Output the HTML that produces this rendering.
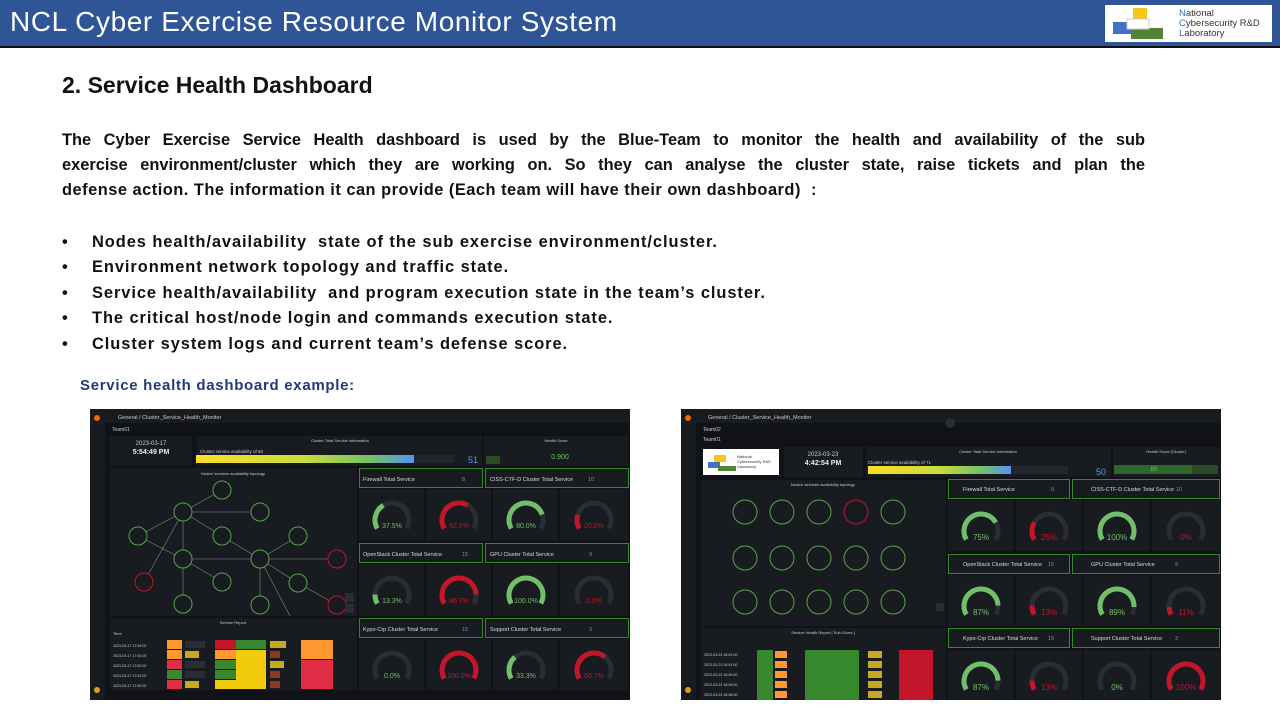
<!DOCTYPE html>
<html><head><meta charset="utf-8"><style>
body{margin:0;width:1280px;height:720px;background:#fff;position:relative;overflow:hidden;font-family:"Liberation Sans",sans-serif}
.hdr{position:absolute;left:0;top:0;width:1280px;height:46px;background:#2f5597;border-bottom:2px solid #111}
.hdr .t{position:absolute;left:10px;top:6px;color:#fff;font-size:28px;letter-spacing:0.6px}
.logo{position:absolute;left:1105px;top:5px;width:167px;height:37px;background:#fff}
.logo .n{position:absolute;left:74px;top:4px;font-size:9.5px;line-height:10px;color:#333}
.logo .n b{color:#2f6fc4;font-weight:normal}
h1{position:absolute;left:62px;top:72px;margin:0;font-size:23px;font-weight:bold;color:#111}
.p{position:absolute;left:62px;width:1083px;font-size:16.4px;font-weight:bold;color:#111;text-align:justify;text-align-last:justify;white-space:nowrap}
.b{position:absolute;left:62px;font-size:16.4px;font-weight:bold;color:#111;letter-spacing:0.95px}
.b span{position:absolute;left:30px;white-space:nowrap}
.ex{position:absolute;left:80px;top:377px;font-size:15px;font-weight:bold;color:#1f3b7a;letter-spacing:0.7px}
svg{position:absolute;left:0;top:0}
</style></head><body>
<div class="hdr"><div class="t">NCL Cyber Exercise Resource Monitor System</div>
<div class="logo"><svg width="70" height="37" style="left:0;top:0"><rect x="28" y="3" width="14" height="14" fill="#f5c518"/><rect x="8" y="17" width="20" height="12" fill="#4472c4"/><rect x="26" y="23" width="32" height="11" fill="#548235"/><rect x="22" y="14" width="22" height="10" fill="#fff" stroke="#ccc"/></svg>
<div class="n"><b>N</b>ational<br><b>C</b>ybersecurity R&amp;D<br><b>L</b>aboratory</div></div></div>
<h1>2. Service Health Dashboard</h1>
<div class="p" style="top:131px">The Cyber Exercise Service Health dashboard is used by the Blue-Team to monitor the health and availability of the sub</div>
<div class="p" style="top:156px">exercise environment/cluster which they are working on. So they can analyse the cluster state, raise tickets and plan the</div>
<div class="p" style="top:181px;text-align-last:left;width:auto;letter-spacing:0.5px">defense action. The information it can provide (Each team will have their own dashboard) &nbsp;:</div>
<div class="b" style="top:233px">•<span>Nodes health/availability &nbsp;state of the sub exercise environment/cluster.</span></div>
<div class="b" style="top:258px">•<span>Environment network topology and traffic state.</span></div>
<div class="b" style="top:284px">•<span>Service health/availability &nbsp;and program execution state in the team’s cluster.</span></div>
<div class="b" style="top:309px">•<span>The critical host/node login and commands execution state.</span></div>
<div class="b" style="top:335px">•<span>Cluster system logs and current team’s defense score.</span></div>
<div class="ex">Service health dashboard example:</div>

<svg width="1280" height="720" font-family="Liberation Sans, sans-serif">
<defs><linearGradient id="g" x1="0" x2="1"><stop offset="0" stop-color="#fade2a"/><stop offset="0.5" stop-color="#c8dc3c"/><stop offset="0.8" stop-color="#73bf69"/><stop offset="1" stop-color="#5794f2"/></linearGradient></defs>
<!-- LEFT DASHBOARD -->
<rect x="90" y="409" width="540" height="291" fill="#111217"/>
<rect x="90" y="409" width="15" height="291" fill="#181b1f"/>
<rect x="90" y="409" width="540" height="14" fill="#181b1f"/>
<text x="118" y="419" font-size="5.5" fill="#ccc">General / Cluster_Service_Health_Monitor</text>
<text x="112" y="431" font-size="5" fill="#ccc">Team01</text>
<circle cx="97" cy="418" r="3" fill="#f46800"/><circle cx="97" cy="690" r="3" fill="#d9a020"/>
<rect x="110" y="436" width="82" height="30" fill="#181b1f"/>
<text x="151" y="445" font-size="6" fill="#ccc" text-anchor="middle">2023-03-17</text>
<text x="151" y="454" font-size="7" fill="#eee" font-weight="bold" text-anchor="middle">5:54:49 PM</text>
<rect x="197" y="436" width="285" height="30" fill="#181b1f"/>
<text x="340" y="442" font-size="4" fill="#ccc" text-anchor="middle">Cluster Total Service Information</text>
<text x="200" y="453" font-size="4.5" fill="#ccc">Cluster service availability of 60</text>
<rect x="196" y="455" width="218" height="8" fill="url(#g)"/><rect x="414" y="455" width="40" height="8" fill="#22252b"/>
<text x="473" y="463" font-size="9" fill="#5794f2" text-anchor="middle">51</text>
<rect x="484" y="436" width="144" height="30" fill="#181b1f"/>
<text x="556" y="442" font-size="4" fill="#ccc" text-anchor="middle">Health Score</text>
<text x="560" y="459" font-size="7" fill="#73bf69" text-anchor="middle">0.900</text>
<rect x="486" y="456" width="14" height="8" fill="#2c4a26"/>
<rect x="110" y="468" width="247" height="148" fill="#181b1f"/>
<text x="233" y="475" font-size="4" fill="#ccc" text-anchor="middle">Nodes' services availability topology</text>
<g stroke="#888" stroke-width="0.6">
<line x1="183" y1="512" x2="222" y2="490"/><line x1="183" y1="512" x2="260" y2="512"/><line x1="183" y1="512" x2="138" y2="536"/><line x1="183" y1="512" x2="222" y2="536"/><line x1="183" y1="512" x2="183" y2="559"/><line x1="138" y1="536" x2="183" y2="559"/><line x1="183" y1="559" x2="260" y2="559"/><line x1="222" y1="536" x2="260" y2="559"/><line x1="260" y1="559" x2="298" y2="536"/><line x1="260" y1="559" x2="337" y2="559"/><line x1="183" y1="559" x2="222" y2="582"/><line x1="183" y1="559" x2="183" y2="604"/><line x1="183" y1="512" x2="144" y2="582"/><line x1="260" y1="559" x2="298" y2="583"/><line x1="260" y1="559" x2="260" y2="605"/><line x1="298" y1="583" x2="337" y2="605"/><line x1="260" y1="559" x2="290" y2="616"/>
</g>
<g fill="#181b1f" stroke="#56a64b" stroke-width="1">
<circle cx="222" cy="490" r="9"/><circle cx="183" cy="512" r="9"/><circle cx="260" cy="512" r="9"/><circle cx="138" cy="536" r="9"/><circle cx="222" cy="536" r="9"/><circle cx="298" cy="536" r="9"/><circle cx="183" cy="559" r="9"/><circle cx="260" cy="559" r="9"/><circle cx="337" cy="559" r="9" stroke="#c4162a"/><circle cx="144" cy="582" r="9" stroke="#c4162a"/><circle cx="222" cy="582" r="9"/><circle cx="298" cy="583" r="9"/><circle cx="183" cy="604" r="9"/><circle cx="260" cy="605" r="9"/><circle cx="337" cy="605" r="9" stroke="#c4162a"/>
</g>
<rect x="345" y="593" width="9" height="9" fill="#2a2d33"/><rect x="345" y="604" width="9" height="9" fill="#2a2d33"/>
<rect x="110" y="618" width="247" height="72" fill="#181b1f"/>
<text x="233" y="624" font-size="4" fill="#ccc" text-anchor="middle">Service Report</text>
<text x="113" y="635" font-size="4" fill="#ccc">Time</text>
<g font-size="3.6" fill="#ccc"><text x="113" y="647">2023-03-17 17:54:00</text><text x="113" y="657">2023-03-17 17:53:00</text><text x="113" y="667">2023-03-17 17:52:00</text><text x="113" y="677">2023-03-17 17:51:00</text><text x="113" y="687">2023-03-17 17:50:00</text></g>
<g>
<rect x="167" y="640" width="15" height="9" fill="#ff9830"/><rect x="167" y="650" width="15" height="9" fill="#ff9830"/><rect x="167" y="660" width="15" height="9" fill="#e02f44"/><rect x="167" y="670" width="15" height="9" fill="#37872d"/><rect x="167" y="680" width="15" height="9" fill="#e02f44"/>
<rect x="185" y="641" width="20" height="7" fill="#2a2d33"/><rect x="185" y="651" width="14" height="7" fill="#c8a820"/><rect x="185" y="661" width="20" height="7" fill="#2a2d33"/><rect x="185" y="671" width="20" height="7" fill="#2a2d33"/><rect x="185" y="681" width="14" height="7" fill="#c8a820"/>
<rect x="215" y="640" width="21" height="9" fill="#c4162a"/><rect x="215" y="650" width="21" height="9" fill="#ff9830"/><rect x="215" y="660" width="21" height="9" fill="#37872d"/><rect x="215" y="670" width="21" height="9" fill="#37872d"/><rect x="215" y="680" width="21" height="9" fill="#f2cc0c"/>
<rect x="236" y="640" width="30" height="9" fill="#37872d"/><rect x="236" y="650" width="30" height="39" fill="#f2cc0c"/>
<rect x="270" y="641" width="16" height="7" fill="#c8a820"/><rect x="270" y="651" width="10" height="7" fill="#8a3a20"/><rect x="270" y="661" width="14" height="7" fill="#c8a820"/><rect x="270" y="671" width="10" height="7" fill="#8a3a20"/><rect x="270" y="681" width="10" height="7" fill="#8a3a20"/>
<rect x="301" y="640" width="32" height="19" fill="#ff9830"/><rect x="301" y="660" width="32" height="29" fill="#e02f44"/>
</g>
<g fill="#181b1f" stroke="#37872d" stroke-width="1">
<rect x="359.5" y="468.5" width="123" height="19"/><rect x="485.5" y="468.5" width="143" height="19"/>
<rect x="359.5" y="543.5" width="123" height="19"/><rect x="485.5" y="543.5" width="143" height="19"/>
<rect x="359.5" y="618.5" width="123" height="19"/><rect x="485.5" y="618.5" width="143" height="19"/>
</g>
<g font-size="5.5" fill="#ddd">
<text x="363" y="481">Firewall Total Service</text><text x="490" y="481">CISS-CTF-D Cluster Total Service</text>
<text x="363" y="556">OpenStack Cluster Total Service</text><text x="490" y="556">GPU Cluster Total Service</text>
<text x="363" y="631">Kypo-Crp Cluster Total Service</text><text x="490" y="631">Support Cluster Total Service</text>
</g>
<g font-size="5.5" fill="#5794f2"><text x="462" y="481">8</text><text x="588" y="481">10</text><text x="462" y="556">15</text><text x="589" y="556">9</text><text x="462" y="631">15</text><text x="589" y="631">3</text></g>
<g fill="#181b1f">
<rect x="359" y="489" width="65" height="52"/><rect x="426" y="489" width="65" height="52"/><rect x="493" y="489" width="65" height="52"/><rect x="560" y="489" width="68" height="52"/>
<rect x="359" y="564" width="65" height="52"/><rect x="426" y="564" width="65" height="52"/><rect x="493" y="564" width="65" height="52"/><rect x="560" y="564" width="68" height="52"/>
<rect x="359" y="639" width="65" height="51"/><rect x="426" y="639" width="65" height="51"/><rect x="493" y="639" width="65" height="51"/><rect x="560" y="639" width="68" height="51"/>
</g>
<g fill="none" stroke-width="5">
<g stroke="#2a2d33">
<circle cx="392" cy="520" r="17" stroke-dasharray="71 200" transform="rotate(150 392 520)"/><circle cx="459" cy="520" r="17" stroke-dasharray="71 200" transform="rotate(150 459 520)"/><circle cx="526" cy="520" r="17" stroke-dasharray="71 200" transform="rotate(150 526 520)"/><circle cx="594" cy="520" r="17" stroke-dasharray="71 200" transform="rotate(150 594 520)"/>
<circle cx="392" cy="595" r="17" stroke-dasharray="71 200" transform="rotate(150 392 595)"/><circle cx="459" cy="595" r="17" stroke-dasharray="71 200" transform="rotate(150 459 595)"/><circle cx="526" cy="595" r="17" stroke-dasharray="71 200" transform="rotate(150 526 595)"/><circle cx="594" cy="595" r="17" stroke-dasharray="71 200" transform="rotate(150 594 595)"/>
<circle cx="392" cy="670" r="17" stroke-dasharray="71 200" transform="rotate(150 392 670)"/><circle cx="459" cy="670" r="17" stroke-dasharray="71 200" transform="rotate(150 459 670)"/><circle cx="526" cy="670" r="17" stroke-dasharray="71 200" transform="rotate(150 526 670)"/><circle cx="594" cy="670" r="17" stroke-dasharray="71 200" transform="rotate(150 594 670)"/>
</g>
<circle cx="392" cy="520" r="17" stroke="#73bf69" stroke-dasharray="26.6 200" transform="rotate(150 392 520)"/><circle cx="459" cy="520" r="17" stroke="#c4162a" stroke-dasharray="44.4 200" transform="rotate(150 459 520)"/><circle cx="526" cy="520" r="17" stroke="#73bf69" stroke-dasharray="56.8 200" transform="rotate(150 526 520)"/><circle cx="594" cy="520" r="17" stroke="#c4162a" stroke-dasharray="14.2 200" transform="rotate(150 594 520)"/>
<circle cx="392" cy="595" r="17" stroke="#73bf69" stroke-dasharray="9.4 200" transform="rotate(150 392 595)"/><circle cx="459" cy="595" r="17" stroke="#c4162a" stroke-dasharray="61.6 200" transform="rotate(150 459 595)"/><circle cx="526" cy="595" r="17" stroke="#73bf69" stroke-dasharray="71 200" transform="rotate(150 526 595)"/>
<circle cx="459" cy="670" r="17" stroke="#c4162a" stroke-dasharray="71 200" transform="rotate(150 459 670)"/><circle cx="526" cy="670" r="17" stroke="#73bf69" stroke-dasharray="23.6 200" transform="rotate(150 526 670)"/><circle cx="594" cy="670" r="17" stroke="#c4162a" stroke-dasharray="47.4 200" transform="rotate(150 594 670)"/>
</g>
<g font-size="7" text-anchor="middle">
<text x="392" y="528" fill="#73bf69">37.5%</text><text x="459" y="528" fill="#c4162a">62.5%</text><text x="526" y="528" fill="#73bf69">80.0%</text><text x="594" y="528" fill="#c4162a">20.0%</text>
<text x="392" y="603" fill="#73bf69">13.3%</text><text x="459" y="603" fill="#c4162a">86.7%</text><text x="526" y="603" fill="#73bf69">100.0%</text><text x="594" y="603" fill="#c4162a">0.0%</text>
<text x="392" y="678" fill="#73bf69">0.0%</text><text x="459" y="678" fill="#c4162a">100.0%</text><text x="526" y="678" fill="#73bf69">33.3%</text><text x="594" y="678" fill="#c4162a">66.7%</text>
</g>

<!-- RIGHT DASHBOARD -->
<rect x="681" y="409" width="540" height="291" fill="#111217"/>
<rect x="681" y="409" width="15" height="291" fill="#181b1f"/>
<rect x="681" y="409" width="540" height="14" fill="#181b1f"/>
<text x="708" y="419" font-size="5.5" fill="#ccc">General / Cluster_Service_Health_Monitor</text>
<circle cx="950" cy="423" r="5" fill="#2a2d33"/>
<text x="703" y="431" font-size="5" fill="#ccc">Team02</text><text x="703" y="441" font-size="5" fill="#ccc">Team01</text>
<circle cx="688" cy="418" r="3" fill="#f46800"/><circle cx="688" cy="690" r="3" fill="#d9a020"/>
<rect x="703" y="449" width="76" height="26" fill="#fff"/>
<rect x="714" y="455" width="12" height="7" fill="#f5c518"/><rect x="708" y="462" width="12" height="6" fill="#4472c4"/><rect x="718" y="466" width="18" height="5" fill="#548235"/>
<text x="737" y="458" font-size="4" fill="#333">National</text><text x="737" y="463" font-size="4" fill="#333">Cybersecurity R&amp;D</text><text x="737" y="468" font-size="4" fill="#333">Laboratory</text>
<rect x="784" y="447" width="79" height="30" fill="#181b1f"/>
<text x="823" y="456" font-size="6" fill="#ccc" text-anchor="middle">2023-03-23</text>
<text x="823" y="465" font-size="7" fill="#eee" font-weight="bold" text-anchor="middle">4:42:54 PM</text>
<rect x="866" y="447" width="245" height="30" fill="#181b1f"/>
<text x="988" y="453" font-size="4" fill="#ccc" text-anchor="middle">Cluster Total Service Information</text>
<text x="868" y="464" font-size="4.5" fill="#ccc">Cluster service availability of 71</text>
<rect x="868" y="466" width="143" height="8" fill="url(#g)"/><rect x="1011" y="466" width="57" height="8" fill="#22252b"/>
<text x="1101" y="475" font-size="9" fill="#5794f2" text-anchor="middle">50</text>
<rect x="1113" y="447" width="107" height="30" fill="#181b1f"/>
<text x="1166" y="453" font-size="4" fill="#ccc" text-anchor="middle">Health Score [Cluster]</text>
<rect x="1114" y="465" width="78" height="9" fill="#37872d" opacity="0.7"/><rect x="1192" y="465" width="26" height="9" fill="#2c4a26"/>
<text x="1154" y="471" font-size="6" fill="#73bf69" text-anchor="middle">80</text>
<rect x="701" y="480" width="245" height="146" fill="#181b1f"/>
<text x="823" y="486" font-size="4" fill="#ccc" text-anchor="middle">Nodes' services availability topology</text>
<g fill="none" stroke="#56a64b" stroke-width="1">
<circle cx="745" cy="512" r="12"/><circle cx="782" cy="512" r="12"/><circle cx="819" cy="512" r="12"/><circle cx="856" cy="512" r="12" stroke="#c4162a"/><circle cx="893" cy="512" r="12"/>
<circle cx="745" cy="558" r="12"/><circle cx="782" cy="558" r="12"/><circle cx="819" cy="558" r="12"/><circle cx="856" cy="558" r="12"/><circle cx="893" cy="558" r="12"/>
<circle cx="745" cy="602" r="12"/><circle cx="782" cy="602" r="12"/><circle cx="819" cy="602" r="12"/><circle cx="856" cy="602" r="12"/><circle cx="893" cy="602" r="12"/>
</g>
<rect x="936" y="603" width="8" height="8" fill="#2a2d33"/>
<rect x="701" y="628" width="245" height="72" fill="#181b1f"/>
<text x="823" y="634" font-size="4" fill="#ccc" text-anchor="middle">Service Health Report [ Sub-Score ]</text>
<g font-size="3.6" fill="#ccc"><text x="704" y="656">2023-03-23 16:42:00</text><text x="704" y="666">2023-03-23 16:41:00</text><text x="704" y="676">2023-03-23 16:40:00</text><text x="704" y="686">2023-03-23 16:39:00</text><text x="704" y="696">2023-03-23 16:38:00</text></g>
<rect x="757" y="650" width="16" height="50" fill="#37872d"/>
<g fill="#ff9830"><rect x="775" y="651" width="12" height="7"/><rect x="775" y="661" width="12" height="7"/><rect x="775" y="671" width="12" height="7"/><rect x="775" y="681" width="12" height="7"/><rect x="775" y="691" width="12" height="7"/></g>
<rect x="805" y="650" width="54" height="50" fill="#37872d"/>
<g fill="#c8a820"><rect x="868" y="651" width="14" height="7"/><rect x="868" y="661" width="14" height="7"/><rect x="868" y="671" width="14" height="7"/><rect x="868" y="681" width="14" height="7"/><rect x="868" y="691" width="14" height="7"/></g>
<rect x="899" y="650" width="34" height="50" fill="#c4162a"/>
<g fill="#181b1f" stroke="#37872d" stroke-width="1">
<rect x="948.5" y="479.5" width="121" height="19"/><rect x="1072.5" y="479.5" width="147" height="19"/>
<rect x="948.5" y="554.5" width="121" height="19"/><rect x="1072.5" y="554.5" width="147" height="19"/>
<rect x="948.5" y="628.5" width="121" height="19"/><rect x="1072.5" y="628.5" width="147" height="19"/>
</g>
<g font-size="5.5" fill="#ddd">
<text x="963" y="491">Firewall Total Service</text><text x="1091" y="491">CISS-CTF-D Cluster Total Service</text>
<text x="963" y="566">OpenStack Cluster Total Service</text><text x="1091" y="566">GPU Cluster Total Service</text>
<text x="963" y="640">Kypo-Crp Cluster Total Service</text><text x="1091" y="640">Support Cluster Total Service</text>
</g>
<g font-size="5.5" fill="#5794f2"><text x="1051" y="491">8</text><text x="1176" y="491">10</text><text x="1048" y="566">15</text><text x="1175" y="566">9</text><text x="1048" y="640">15</text><text x="1175" y="640">3</text></g>
<g fill="#181b1f">
<rect x="948" y="500" width="66" height="51"/><rect x="1016" y="500" width="66" height="51"/><rect x="1084" y="500" width="66" height="51"/><rect x="1152" y="500" width="68" height="51"/>
<rect x="948" y="575" width="66" height="51"/><rect x="1016" y="575" width="66" height="51"/><rect x="1084" y="575" width="66" height="51"/><rect x="1152" y="575" width="68" height="51"/>
<rect x="948" y="650" width="66" height="50"/><rect x="1016" y="650" width="66" height="50"/><rect x="1084" y="650" width="66" height="50"/><rect x="1152" y="650" width="68" height="50"/>
</g>
<g fill="none" stroke-width="5">
<g stroke="#2a2d33">
<circle cx="981" cy="531" r="17" stroke-dasharray="71 200" transform="rotate(150 981 531)"/><circle cx="1049" cy="531" r="17" stroke-dasharray="71 200" transform="rotate(150 1049 531)"/><circle cx="1117" cy="531" r="17" stroke-dasharray="71 200" transform="rotate(150 1117 531)"/><circle cx="1186" cy="531" r="17" stroke-dasharray="71 200" transform="rotate(150 1186 531)"/>
<circle cx="981" cy="606" r="17" stroke-dasharray="71 200" transform="rotate(150 981 606)"/><circle cx="1049" cy="606" r="17" stroke-dasharray="71 200" transform="rotate(150 1049 606)"/><circle cx="1117" cy="606" r="17" stroke-dasharray="71 200" transform="rotate(150 1117 606)"/><circle cx="1186" cy="606" r="17" stroke-dasharray="71 200" transform="rotate(150 1186 606)"/>
<circle cx="981" cy="681" r="17" stroke-dasharray="71 200" transform="rotate(150 981 681)"/><circle cx="1049" cy="681" r="17" stroke-dasharray="71 200" transform="rotate(150 1049 681)"/><circle cx="1117" cy="681" r="17" stroke-dasharray="71 200" transform="rotate(150 1117 681)"/><circle cx="1186" cy="681" r="17" stroke-dasharray="71 200" transform="rotate(150 1186 681)"/>
</g>
<circle cx="981" cy="531" r="17" stroke="#73bf69" stroke-dasharray="53.3 200" transform="rotate(150 981 531)"/><circle cx="1049" cy="531" r="17" stroke="#c4162a" stroke-dasharray="17.8 200" transform="rotate(150 1049 531)"/><circle cx="1117" cy="531" r="17" stroke="#73bf69" stroke-dasharray="71 200" transform="rotate(150 1117 531)"/>
<circle cx="981" cy="606" r="17" stroke="#73bf69" stroke-dasharray="61.8 200" transform="rotate(150 981 606)"/><circle cx="1049" cy="606" r="17" stroke="#c4162a" stroke-dasharray="9.2 200" transform="rotate(150 1049 606)"/><circle cx="1117" cy="606" r="17" stroke="#73bf69" stroke-dasharray="63.2 200" transform="rotate(150 1117 606)"/><circle cx="1186" cy="606" r="17" stroke="#c4162a" stroke-dasharray="7.8 200" transform="rotate(150 1186 606)"/>
<circle cx="981" cy="681" r="17" stroke="#73bf69" stroke-dasharray="61.8 200" transform="rotate(150 981 681)"/><circle cx="1049" cy="681" r="17" stroke="#c4162a" stroke-dasharray="9.2 200" transform="rotate(150 1049 681)"/><circle cx="1186" cy="681" r="17" stroke="#c4162a" stroke-dasharray="71 200" transform="rotate(150 1186 681)"/>
</g>
<g font-size="8" text-anchor="middle">
<text x="981" y="540" fill="#73bf69">75%</text><text x="1049" y="540" fill="#c4162a">25%</text><text x="1117" y="540" fill="#73bf69">100%</text><text x="1186" y="540" fill="#c4162a">0%</text>
<text x="981" y="615" fill="#73bf69">87%</text><text x="1049" y="615" fill="#c4162a">13%</text><text x="1117" y="615" fill="#73bf69">89%</text><text x="1186" y="615" fill="#c4162a">11%</text>
<text x="981" y="690" fill="#73bf69">87%</text><text x="1049" y="690" fill="#c4162a">13%</text><text x="1117" y="690" fill="#73bf69">0%</text><text x="1186" y="690" fill="#c4162a">100%</text>
</g>
</svg>
</body></html>
